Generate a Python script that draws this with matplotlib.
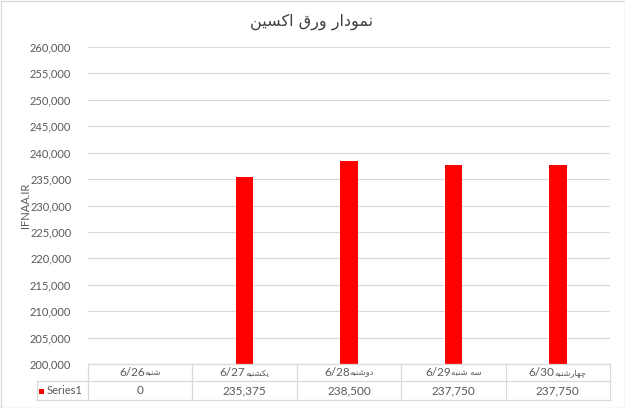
import matplotlib
matplotlib.use("Agg")
import matplotlib.pyplot as plt
from matplotlib.lines import Line2D
from matplotlib.patches import Rectangle
from matplotlib.ticker import FuncFormatter

# ---------------- data ----------------
title_text = "نمودار ورق اکسین"
y_label = "IFNAA.IR"
days = ["شنبه", "یکشنبه", "دوشنبه", "سه شنبه", "چهارشنبه"]
dates = ["6/26", "6/27", "6/28", "6/29", "6/30"]
values = [0, 235375, 238500, 237750, 237750]
series_name = "Series1"
y_min, y_max, y_step = 200000, 260000, 5000

# ---------------- minimal Arabic/Persian shaping ----------------
FORMS = {
    "ا": ("\uFE8D", "\uFE8E", None, None),
    "ب": ("\uFE8F", "\uFE90", "\uFE91", "\uFE92"),
    "د": ("\uFEA9", "\uFEAA", None, None),
    "ر": ("\uFEAD", "\uFEAE", None, None),
    "س": ("\uFEB1", "\uFEB2", "\uFEB3", "\uFEB4"),
    "ش": ("\uFEB5", "\uFEB6", "\uFEB7", "\uFEB8"),
    "ق": ("\uFED5", "\uFED6", "\uFED7", "\uFED8"),
    "م": ("\uFEE1", "\uFEE2", "\uFEE3", "\uFEE4"),
    "ن": ("\uFEE5", "\uFEE6", "\uFEE7", "\uFEE8"),
    "ه": ("\uFEE9", "\uFEEA", "\uFEEB", "\uFEEC"),
    "و": ("\uFEED", "\uFEEE", None, None),
    "ی": ("\uFBFC", "\uFBFD", "\uFBFE", "\uFBFF"),
    "ک": ("\uFB8E", "\uFB8F", "\uFB90", "\uFB91"),
    "چ": ("\uFB7A", "\uFB7B", "\uFB7C", "\uFB7D"),
}


def dual(c):
    return c in FORMS and FORMS[c][2] is not None


def shape(s):
    out = []
    for i, c in enumerate(s):
        if c not in FORMS:
            out.append(c)
            continue
        prev = s[i - 1] if i > 0 else ""
        nxt = s[i + 1] if i + 1 < len(s) else ""
        jp = dual(prev)
        jn = dual(c) and nxt in FORMS
        iso, fin, ini, med = FORMS[c]
        if jp and jn:
            out.append(med)
        elif jp:
            out.append(fin)
        elif jn:
            out.append(ini)
        else:
            out.append(iso)
    return "".join(out)[::-1]


# ---------------- figure ----------------
W, H = 625, 408
fig = plt.figure(figsize=(W / 100, H / 100), dpi=100)
fig.patch.set_facecolor("white")

LAT = ["Lato", "DejaVu Sans"]
TXT = "#595959"
GRID = "#d9d9d9"


def fx(p):
    return p / W


def fy(p):
    return 1 - p / H


# outer border
fig.add_artist(Rectangle((fx(0.5), fy(407.5)), fx(624), 1 - fy(407), transform=fig.transFigure,
                         fill=False, edgecolor=GRID, linewidth=1.0))

left, right, top, bottom = 88, 610, 47, 364
ax = fig.add_axes([fx(left), fy(bottom), fx(right - left), fy(top) - fy(bottom)])
n = len(values)
x = list(range(n))
ax.bar(x, values, width=0.17, color="#ff0000", zorder=3)
ax.set_xlim(-0.5, n - 0.5)
ax.set_ylim(y_min, y_max)
ax.set_yticks(list(range(y_min, y_max + 1, y_step)))
ax.yaxis.set_major_formatter(FuncFormatter(lambda v, p: f"{int(v):,}"))
ax.set_xticks([])
ax.tick_params(axis="y", length=0, pad=12, labelsize=8, labelcolor=TXT)
for lab in ax.get_yticklabels():
    lab.set_family(LAT)
ax.grid(axis="y", color=GRID, linewidth=0.8, zorder=0)
for sp in ax.spines.values():
    sp.set_visible(False)
ax.set_ylabel(y_label, family=LAT, fontsize=8, color=TXT)
ax.yaxis.set_label_coords((31 - left) / (right - left), 0.5)

# title
fig.text(fx(312), fy(22), shape(title_text), ha="center", va="center",
         fontsize=11.5, color="#404040", family=["DejaVu Sans"])

# ---------------- data table ----------------
r0, r1, r2 = 364, 381, 400
col_w = (right - left) / n
cols = [left + i * col_w for i in range(n + 1)]
leg_left = 37


def hline(y, x0, x1):
    fig.add_artist(Line2D([fx(x0), fx(x1)], [fy(y), fy(y)], transform=fig.transFigure,
                          color=GRID, linewidth=0.9))


def vline(xp, y0, y1):
    fig.add_artist(Line2D([fx(xp), fx(xp)], [fy(y0), fy(y1)], transform=fig.transFigure,
                          color=GRID, linewidth=0.9))


hline(r0, left, right)
hline(r1, leg_left, right)
hline(r2, leg_left, right)
for c in cols:
    vline(c, r0, r2)
vline(leg_left, r1, r2)

renderer = fig.canvas.get_renderer()
for i in range(n):
    cx = (cols[i] + cols[i + 1]) / 2
    cy = (r0 + r1) / 2 + 0.5
    t1 = fig.text(0, fy(cy), dates[i], ha="left", va="center", fontsize=8.5,
                  color=TXT, family=LAT)
    t2 = fig.text(0, fy(cy), shape(days[i]), ha="left", va="center", fontsize=6,
                  color=TXT, family=["DejaVu Sans"])
    w1 = t1.get_window_extent(renderer).width
    w2 = t2.get_window_extent(renderer).width
    x0 = cx - (w1 + w2) / 2
    t1.set_x(fx(x0))
    t2.set_x(fx(x0 + w1))
    fig.text(fx(cx), fy((r1 + r2) / 2 + 0.5), f"{values[i]:,}", ha="center", va="center",
             fontsize=8.5, color=TXT, family=LAT)

# legend key cell
fig.add_artist(Rectangle((fx(39), fy(394)), fx(5), fy(389) - fy(394), transform=fig.transFigure,
                         facecolor="#ff0000", edgecolor="none"))
fig.text(fx(47), fy((r1 + r2) / 2 + 0.5), series_name, ha="left", va="center",
         fontsize=8, color=TXT, family=LAT)

fig.savefig("out.png", dpi=100, facecolor="white")
